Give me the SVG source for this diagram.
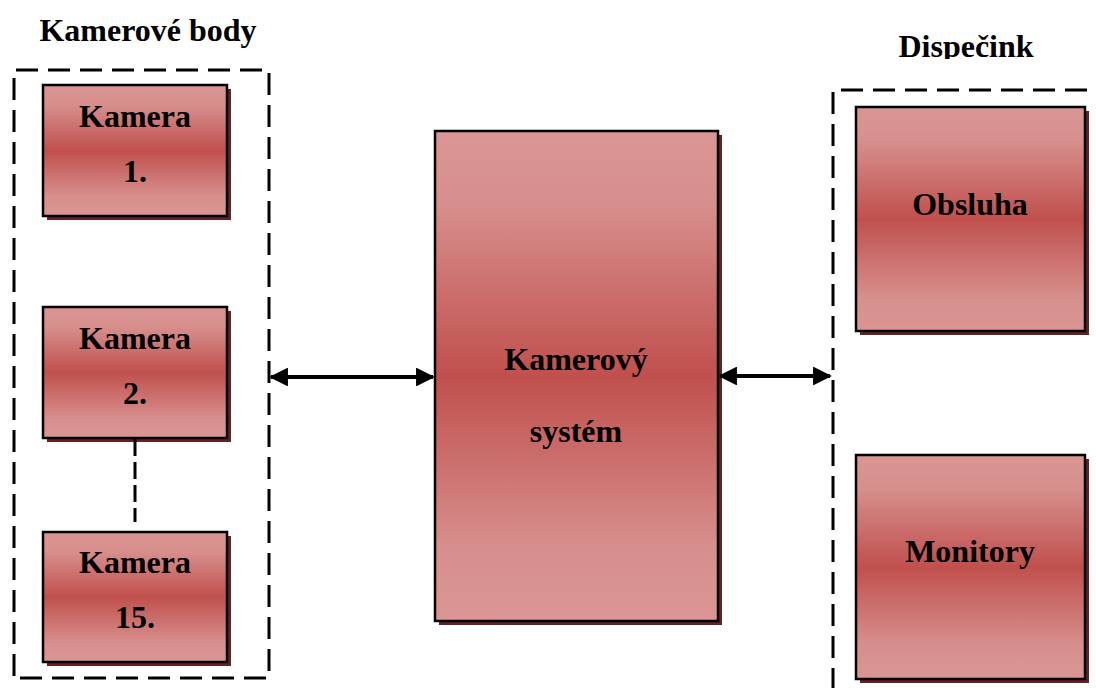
<svg xmlns="http://www.w3.org/2000/svg" width="1096" height="688" viewBox="0 0 1096 688">
<defs>
<linearGradient id="g" x1="0" y1="0" x2="0" y2="1">
<stop offset="0" stop-color="#da9694"/>
<stop offset="0.15" stop-color="#d78f8d"/>
<stop offset="0.5" stop-color="#c0504d"/>
<stop offset="0.85" stop-color="#d78f8d"/>
<stop offset="1" stop-color="#da9694"/>
</linearGradient>
<marker id="ah" viewBox="0 0 10 10" refX="9" refY="5" markerWidth="5" markerHeight="4.7" markerUnits="strokeWidth" orient="auto-start-reverse">
<path d="M0,0 L10,5 L0,10 z" fill="#000"/>
</marker>
<clipPath id="clipT"><rect x="850" y="0" width="246" height="59"/></clipPath>
</defs>
<style>
.sh{fill:#622423}
.bx{fill:url(#g);stroke:#000;stroke-width:2.5}
.t{font-family:"Liberation Serif","Times New Roman",serif;font-weight:bold;font-size:32px;fill:#000;text-anchor:middle}
.dash{fill:none;stroke:#000;stroke-width:3;stroke-dasharray:22 10}
.con{stroke:#000;stroke-width:4;fill:none}
</style>
<rect width="1096" height="688" fill="#fff"/>
<g id="groups">
<text class="t" x="148" y="41">Kamerové body</text>
<path class="dash" d="M14,676 L14,70 L269,70 L269,678 L16,678"/>
<text class="t" x="966" y="57" clip-path="url(#clipT)">Dispečink</text>
<path class="dash" d="M833,690 L833,90 L1100,90"/>
</g>
<g id="kamera1">
<rect class="sh" x="47" y="89" width="184" height="131"/>
<rect class="bx" x="43" y="85" width="184" height="131"/>
<text class="t" x="135" y="127">Kamera</text>
<text class="t" x="135" y="182">1.</text>
</g>
<g id="kamera2">
<rect class="sh" x="47" y="311" width="184" height="131"/>
<rect class="bx" x="43" y="307" width="184" height="131"/>
<text class="t" x="135" y="349">Kamera</text>
<text class="t" x="135" y="404">2.</text>
</g>
<g id="kamera15">
<rect class="sh" x="47" y="536" width="184" height="130"/>
<rect class="bx" x="43" y="532" width="184" height="130"/>
<text class="t" x="135" y="573">Kamera</text>
<text class="t" x="135" y="628">15.</text>
</g>
<g id="kamerovy-system">
<rect class="sh" x="439" y="135" width="283" height="490"/>
<rect class="bx" x="435" y="131" width="283" height="490"/>
<text class="t" x="576" y="370">Kamerový</text>
<text class="t" x="576" y="442">systém</text>
</g>
<g id="obsluha">
<rect class="sh" x="860" y="111" width="229" height="224"/>
<rect class="bx" x="856" y="107" width="229" height="224"/>
<text class="t" x="970" y="215">Obsluha</text>
</g>
<g id="monitory">
<rect class="sh" x="860" y="459" width="229" height="224"/>
<rect class="bx" x="856" y="455" width="229" height="224"/>
<text class="t" x="970" y="562">Monitory</text>
</g>
<g id="connectors">
<line x1="135" y1="439" x2="135" y2="522" stroke="#000" stroke-width="3" stroke-dasharray="17 6"/>
<line class="con" x1="271" y1="377" x2="433" y2="377" marker-start="url(#ah)" marker-end="url(#ah)"/>
<line class="con" x1="720" y1="376" x2="830" y2="376" marker-start="url(#ah)" marker-end="url(#ah)"/>
</g>
</svg>
